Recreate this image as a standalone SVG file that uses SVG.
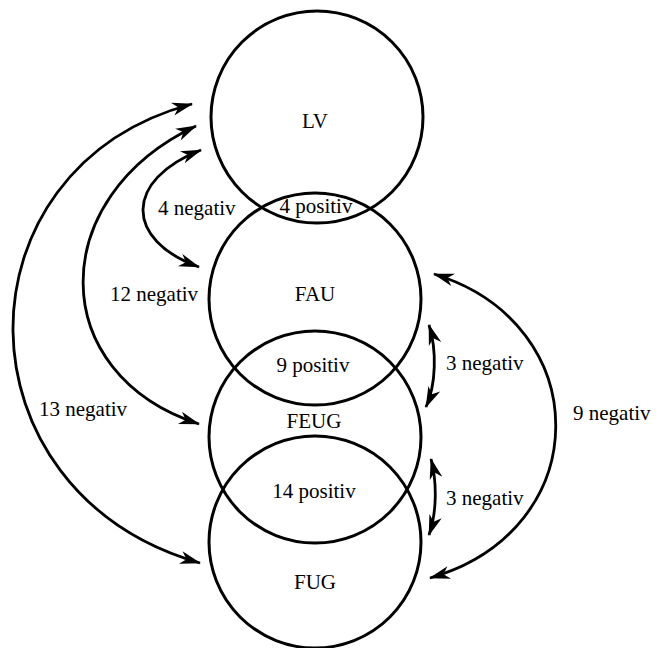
<svg xmlns="http://www.w3.org/2000/svg" width="658" height="648" viewBox="0 0 658 648">
<style>
.c{fill:none;stroke:#000;stroke-width:3}
.a{fill:none;stroke:#000;stroke-width:2.8;marker-end:url(#ah)}
.d{marker-start:url(#ah)}
text{font-family:"Liberation Serif","Times New Roman",serif;font-size:21px;fill:#000}
.m{text-anchor:middle}
</style>
<defs>
<marker id="ah" viewBox="-21 -7 22 14" refX="0" refY="0" markerWidth="22" markerHeight="14" markerUnits="userSpaceOnUse" orient="auto-start-reverse" overflow="visible">
<path d="M1,0 L-20,-6.5 L-14,0 L-20,6.5 Z" fill="#000"/>
</marker>
</defs>
<rect width="658" height="648" fill="#fff"/>
<g id="LV"><circle class="c" cx="317" cy="117" r="106"/><text class="m" x="315" y="128">LV</text></g>
<g id="FAU"><circle class="c" cx="315" cy="299" r="106"/><text class="m" x="315" y="301">FAU</text></g>
<g id="FEUG"><circle class="c" cx="315" cy="437" r="106"/><text class="m" x="314" y="428">FEUG</text></g>
<g id="FUG"><circle class="c" cx="315" cy="542" r="106"/><text class="m" x="315" y="589">FUG</text></g>
<g id="overlaps">
<text class="m" x="316" y="213">4 positiv</text>
<text class="m" x="313" y="372">9 positiv</text>
<text class="m" x="314" y="498">14 positiv</text>
</g>
<g id="connectors">
<path class="a d" d="M201,150 C124,180 124,240 199,267"/>
<path class="a d" d="M196,126 C45,197 45,374 199,424"/>
<path class="a d" d="M192,104 C-48,168 -48,492 200,563"/>
<path class="a d" d="M429,325 C437,350 436,385 426,407"/>
<path class="a d" d="M431,459 C437,482 437,512 429,535"/>
<path class="a d" d="M434,274 C597,324 597,530 430,578"/>
</g>
<g id="labels">
<text x="158" y="215">4 negativ</text>
<text x="110" y="301">12 negativ</text>
<text x="39" y="416">13 negativ</text>
<text x="446" y="370">3 negativ</text>
<text x="446" y="505">3 negativ</text>
<text x="573" y="420">9 negativ</text>
</g>
</svg>
